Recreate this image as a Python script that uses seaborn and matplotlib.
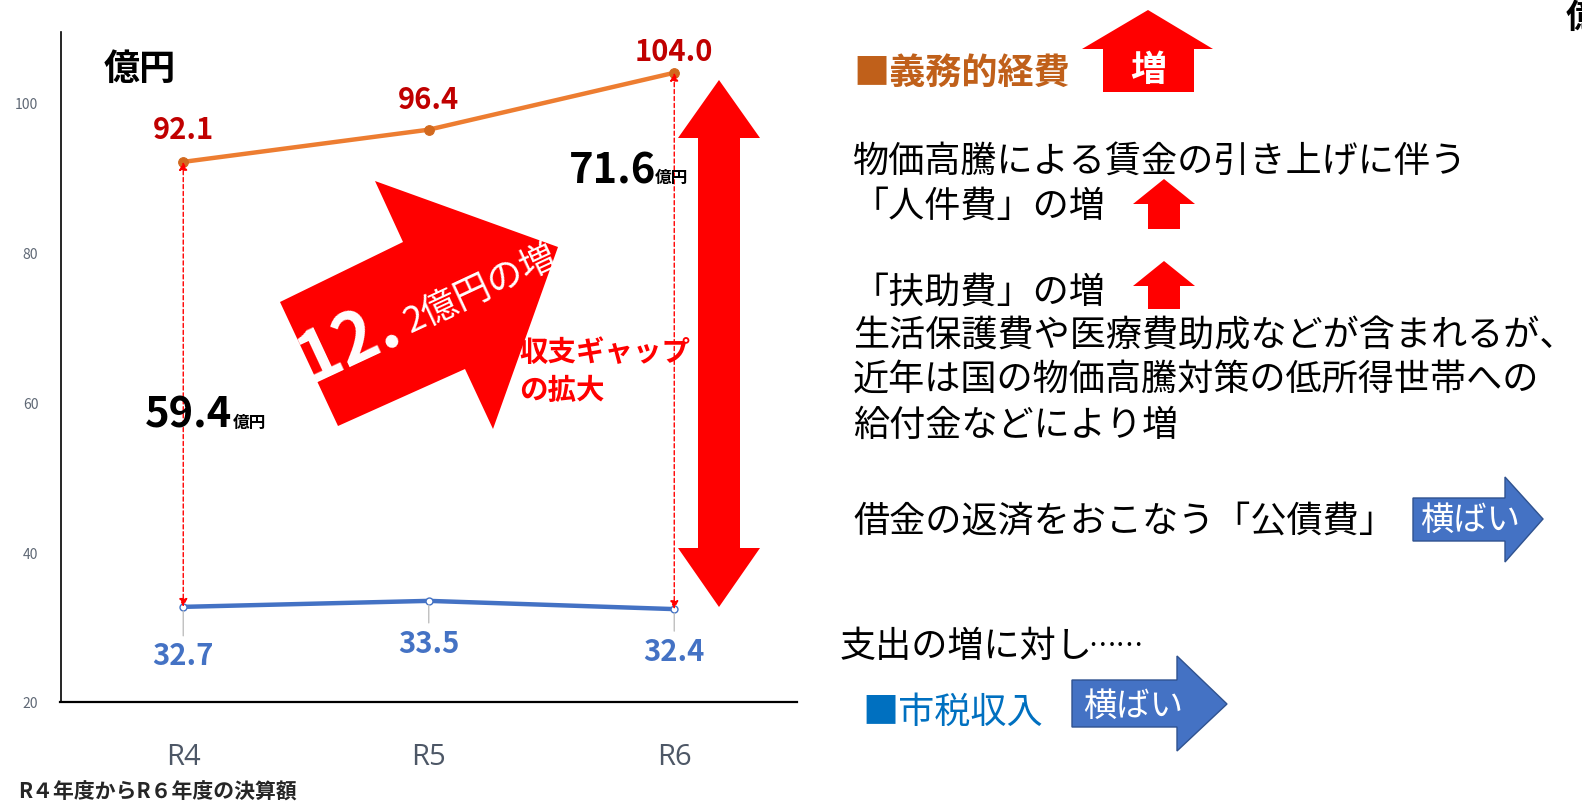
import numpy as np
import pandas as pd
import matplotlib
matplotlib.use("Agg")
import matplotlib.pyplot as plt
from matplotlib.patches import Polygon
import seaborn as sns

# %% data
years = ["R4", "R5", "R6"]
mandatory = [92.1, 96.4, 104.0]   # 義務的経費
tax = [32.7, 33.5, 32.4]          # 市税収入
yticks = [20, 40, 60, 80, 100]

# label offsets (points) above / below each marker
orange_off = [24, 22, 16]
blue_off = [-35, -30, -30]

W, H = 1582, 804
RED = "#FF0000"
ORANGE = "#ED7D31"
BLUE = "#4472C4"


def fx(x):
    return x / W


def fy(y):
    return 1 - y / H


def fig_poly(fig, pts, color, edge="none", z=2):
    poly = Polygon([(fx(x), fy(y)) for x, y in pts], closed=True,
                   transform=fig.transFigure, facecolor=color,
                   edgecolor=edge, lw=1, zorder=z)
    fig.add_artist(poly)


def fig_text(fig, x, y, s, **kw):
    return fig.text(fx(x), fy(y), s, **kw)


sns.set_theme(style="white")
plt.rcParams["font.family"] = ["Noto Sans CJK JP", "DejaVu Sans"]

fig = plt.figure(figsize=(W / 100, H / 100), dpi=100)
ax = fig.add_axes([60.5 / W, 1 - 703 / H, (797 - 60.5) / W, (703 - 33.3) / H])

df = pd.DataFrame({"x": np.arange(len(years)), "mandatory": mandatory, "tax": tax})
sns.lineplot(data=df, x="x", y="mandatory", ax=ax, color=ORANGE, lw=3.2,
             marker="o", markersize=7, markerfacecolor="#D2691E",
             markeredgecolor="#D2691E", zorder=3)
sns.lineplot(data=df, x="x", y="tax", ax=ax, color=BLUE, lw=3.2,
             marker="o", markersize=5, markerfacecolor="white",
             markeredgecolor=BLUE, markeredgewidth=1, zorder=3)

ax.set_xlim(-0.5, len(years) - 0.5)
ax.set_ylim(20, 109.4)
ax.set_xticks(df["x"])
ax.set_xticklabels(years)
ax.set_xticks(np.arange(len(years) + 1) - 0.5, minor=True)
ax.set_yticks(yticks)
ax.tick_params(axis="x", which="major", length=0, pad=29, labelsize=21,
               labelcolor="#4D5766")
ax.tick_params(axis="x", which="minor", length=9, width=1.2, color="black",
               direction="out")
ax.tick_params(axis="y", length=4, width=1, color="black", direction="out",
               pad=12, labelsize=10, labelcolor="#5F6875")
for lab in ax.get_xticklabels():
    lab.set_fontfamily(["Open Sans", "DejaVu Sans"])
ax.set_xlabel("")
ax.set_ylabel("")
for s in ["top", "right"]:
    ax.spines[s].set_visible(False)
ax.spines["left"].set_color("black")
ax.spines["left"].set_linewidth(1.2)
ax.spines["bottom"].set_color("black")
ax.spines["bottom"].set_linewidth(1.6)
ax.patch.set_alpha(0)

# value labels
for i, v in enumerate(mandatory):
    ax.annotate(f"{v:.1f}", (i, v), xytext=(0, orange_off[i]),
                textcoords="offset points", ha="center", va="center",
                fontsize=21, fontweight="bold", color="#C00000")
for i, v in enumerate(tax):
    ax.annotate(f"{v:.1f}", (i, v), xytext=(0, blue_off[i]),
                textcoords="offset points", ha="center", va="center",
                fontsize=21, fontweight="bold", color=BLUE,
                arrowprops=dict(arrowstyle="-", color="#BFBFBF", lw=1,
                                shrinkA=1, shrinkB=3))

# dashed gap arrows at first and last year
for i in [0, len(years) - 1]:
    ax.annotate("", xy=(i, mandatory[i]), xytext=(i, tax[i]),
                arrowprops=dict(arrowstyle="<|-|>", color=RED, lw=1,
                                ls=(0, (3, 2)), mutation_scale=12,
                                shrinkA=0, shrinkB=0))

gap_first = mandatory[0] - tax[0]
gap_last = mandatory[-1] - tax[-1]

fig_text(fig, 104, 69, "億円", fontsize=26, fontweight="bold", color="black",
         va="center", ha="left")
fig_text(fig, 145, 428, f"{gap_first:.1f}", fontsize=30, fontweight="bold",
         color="black", va="baseline", ha="left", zorder=5)
fig_text(fig, 233, 428, "億円", fontsize=12, fontweight="bold",
         color="black", va="baseline", ha="left", zorder=5)
fig_text(fig, 569, 183, f"{gap_last:.1f}", fontsize=30, fontweight="bold",
         color="black", va="baseline", ha="left", zorder=5)
fig_text(fig, 655, 183, "億円", fontsize=12, fontweight="bold",
         color="black", va="baseline", ha="left", zorder=5)

# big diagonal arrow
fig_poly(fig, [(280, 303), (403, 243), (375, 182), (558, 248), (493, 430),
               (465, 370), (338, 427)], RED)
fig_text(fig, 310, 383, "12.", fontsize=50, fontweight="bold", color="white",
         rotation=25, rotation_mode="anchor", ha="left", va="baseline",
         zorder=6)
fig_text(fig, 410, 333, f"{gap_last - gap_first:.1f}"[-1] + "億円の増",
         fontsize=26, color="white", rotation=25, rotation_mode="anchor",
         ha="left", va="baseline", zorder=6)

fig_text(fig, 519, 353, "収支ギャップ", fontsize=20.5, fontweight="bold",
         color=RED, va="center", ha="left")
fig_text(fig, 519, 391, "の拡大", fontsize=20.5, fontweight="bold",
         color=RED, va="center", ha="left")

# big vertical double arrow
fig_poly(fig, [(719, 81), (760, 139), (740, 139), (740, 549), (760, 549),
               (719, 608), (678, 549), (698, 549), (698, 139), (678, 139)], RED)

fig_text(fig, 18, 792, "R４年度からR６年度の決算額", fontsize=15,
         fontweight="bold", color="#262626", va="center", ha="left")

# right panel
fig_text(fig, 853, 73, "■義務的経費", fontsize=26, fontweight="bold",
         color="#C0601A", va="center", ha="left")
fig_poly(fig, [(1103, 93), (1103, 50), (1082, 50), (1148, 11), (1213, 50),
               (1194, 50), (1194, 93)], RED)
fig_text(fig, 1148, 71, "増", fontsize=26, fontweight="bold", color="white",
         va="center", ha="center", zorder=6)
fig_text(fig, 1566, 18, "億", fontsize=24, fontweight="bold", color="black",
         va="center", ha="left")

body = dict(fontsize=26, color="black", va="center", ha="left")
fig_text(fig, 853, 162, "物価高騰による賃金の引き上げに伴う", **body)
fig_text(fig, 853, 207, "「人件費」の増", **body)
fig_poly(fig, [(1164, 180), (1195, 205), (1180, 205), (1180, 230),
               (1148, 230), (1148, 205), (1133, 205)], RED)
fig_text(fig, 853, 293, "「扶助費」の増", **body)
fig_poly(fig, [(1164, 262), (1195, 287), (1180, 287), (1180, 310),
               (1148, 310), (1148, 287), (1133, 287)], RED)
fig_text(fig, 853, 337, "生活保護費や医療費助成などが含まれるが、", **body)
fig_text(fig, 853, 381, "近年は国の物価高騰対策の低所得世帯への", **body)
fig_text(fig, 853, 426, "給付金などにより増", **body)
fig_text(fig, 853, 522, "借金の返済をおこなう「公債費」", **body)
fig_poly(fig, [(1413, 499), (1505, 499), (1505, 478), (1543, 520),
               (1505, 563), (1505, 542), (1413, 542)], BLUE, edge="#2F528F")
fig_text(fig, 1470, 520, "横ばい", fontsize=24, color="white", va="center",
         ha="center", zorder=6)
fig_text(fig, 840, 647, "支出の増に対し", **body)
fig_text(fig, 1088, 647, "……", fontsize=20, color="black", va="center",
         ha="left")
fig_text(fig, 862, 713, "■市税収入", fontsize=26, color="#0070C0",
         va="center", ha="left")
fig_poly(fig, [(1072, 681), (1177, 681), (1177, 657), (1227, 705),
               (1177, 752), (1177, 728), (1072, 728)], BLUE, edge="#2F528F")
fig_text(fig, 1133, 706, "横ばい", fontsize=24, color="white", va="center",
         ha="center", zorder=6)

fig.savefig("out.png", dpi=100)
